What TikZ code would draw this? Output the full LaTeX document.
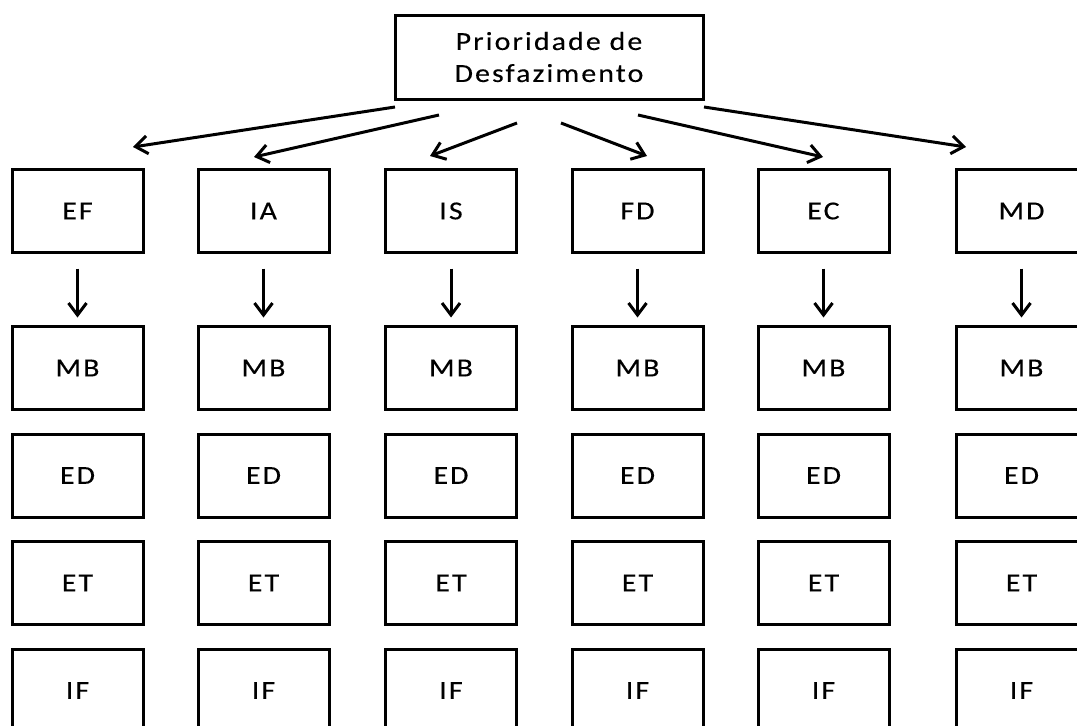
\documentclass[tikz,border=0pt]{standalone}
\usepackage{fontspec}
\usetikzlibrary{arrows.meta}
\newfontfamily\boxfont{Carlito}[FakeStretch=1.15,LetterSpace=8,FakeBold=0.2]
\begin{document}
\begin{tikzpicture}[x=1pt,y=-1pt,
  box/.style={draw, line width=3pt, minimum width=131pt, minimum height=83pt,
    inner sep=0pt, outer sep=0pt, font=\boxfont\fontsize{26}{32}\selectfont, align=center},
  arr/.style={line width=3pt, -{Straight Barb[length=12pt,width=18pt,line width=3pt]}}
]
\useasboundingbox (0,0) rectangle (1077,726);
\fill[white] (0,0) rectangle (1077,726);
\node[box, minimum width=308pt, minimum height=84pt] (top) at (549,57) {Prioridade de\\Desfazimento};
\foreach \i/\x/\a in {1/77.5/EF,2/263.5/IA,3/451/IS,4/637.5/FD,5/823.5/EC,6/1021.5/MD}{
  \node[box] (a\i) at (\x,211) {\a};
  \node[box] (b\i) at (\x,368) {MB};
  \node[box] (c\i) at (\x,475.5) {ED};
  \node[box] (d\i) at (\x,583) {ET};
  \node[box] (e\i) at (\x,690.5) {IF};
  \draw[arr, shorten <=16pt, shorten >=9pt] (a\i) -- (b\i);
}
\coordinate (s1) at (395,107); \coordinate (t1) at (133,147);
\coordinate (s2) at (439,115); \coordinate (t2) at (254,157);
\coordinate (s3) at (517,123); \coordinate (t3) at (430,156);
\coordinate (s4) at (561,123); \coordinate (t4) at (647,156);
\coordinate (s5) at (638,115); \coordinate (t5) at (823,157);
\coordinate (s6) at (704,107); \coordinate (t6) at (966,147);
\foreach \i in {1,...,6}{
  \draw[arr] (s\i) -- (t\i);
}
\end{tikzpicture}
\end{document}
